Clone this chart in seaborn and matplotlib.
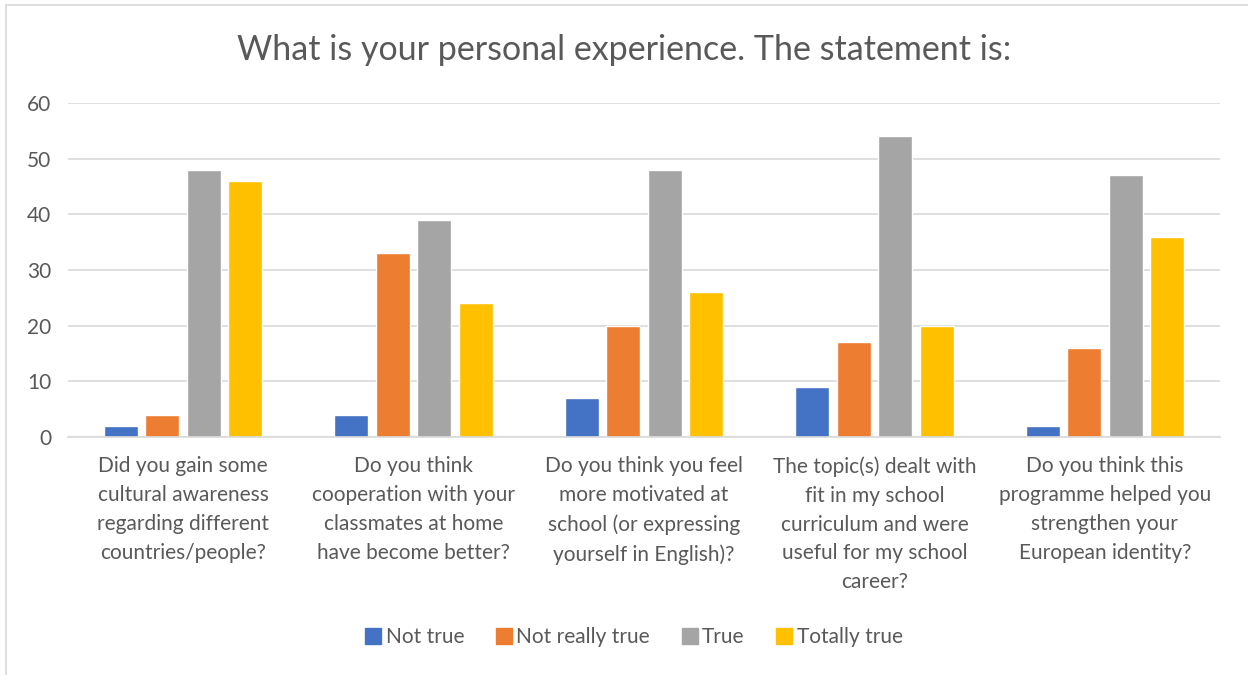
import numpy as np
import pandas as pd
import seaborn as sns
import matplotlib.pyplot as plt
from matplotlib.lines import Line2D

questions = [
    "Did you gain some\ncultural awareness\nregarding different\ncountries/people?",
    "Do you think\ncooperation with your\nclassmates at home\nhave become better?",
    "Do you think you feel\nmore motivated at\nschool (or expressing\nyourself in English)?",
    "The topic(s) dealt with\nfit in my school\ncurriculum and were\nuseful for my school\ncareer?",
    "Do you think this\nprogramme helped you\nstrengthen your\nEuropean identity?",
]
answers = ["Not true", "Not really true", "True", "Totally true"]
not_true = [2, 4, 7, 9, 2]
not_really_true = [4, 33, 20, 17, 16]
true_vals = [48, 39, 48, 54, 47]
totally_true = [46, 24, 26, 20, 36]
colors = ["#4472C4", "#ED7D31", "#A5A5A5", "#FFC000"]

rows = []
for ans, vals in zip(answers, [not_true, not_really_true, true_vals, totally_true]):
    for q, v in zip(questions, vals):
        rows.append({"question": q, "answer": ans, "count": v})
df = pd.DataFrame(rows)

sns.set_theme(style="white")
plt.rcParams["font.family"] = ["Lato", "DejaVu Sans"]
text_col = "#595959"

fig = plt.figure(figsize=(12.48, 6.75), dpi=100)
ax = fig.add_axes([68 / 1248, 1 - 437 / 675, (1220 - 68) / 1248, (437 - 103) / 675])

sns.barplot(data=df, x="question", y="count", hue="answer", hue_order=answers,
            order=questions, palette=colors, width=0.72, gap=0.18,
            saturation=1, ax=ax, legend=False)

ax.set_ylim(0, 60)
ax.set_yticks(range(0, 61, 10))
ax.yaxis.grid(True, color="#d9d9d9", linewidth=1.2)
ax.set_axisbelow(True)
for s in ["top", "right", "left"]:
    ax.spines[s].set_visible(False)
ax.spines["bottom"].set_color("#d9d9d9")
ax.spines["bottom"].set_linewidth(1.2)
ax.set_xlabel("")
ax.set_ylabel("")
ax.set_xticks(range(len(questions)))
ax.set_xticklabels(questions, linespacing=1.55, fontsize=15, color=text_col, va="top")
ax.tick_params(axis="both", length=0, colors=text_col)
ax.tick_params(axis="y", pad=12, labelsize=15)
ax.tick_params(axis="x", pad=14)

fig.text(0.5, 1 - 50 / 675, "What is your personal experience. The statement is:",
         ha="center", va="center", fontsize=24.5, color=text_col)

handles = [Line2D([0], [0], marker="s", linestyle="", markersize=11,
                  markerfacecolor=c, markeredgecolor=c) for c in colors]
fig.legend(handles, answers, loc="center", bbox_to_anchor=(0.507, 1 - 637 / 675),
           ncol=4, frameon=False, fontsize=15, labelcolor=text_col,
           handletextpad=0.1, columnspacing=1.4, handlelength=1.0)

# outer chart frame
fig.add_artist(Line2D([6 / 1248, 6 / 1248], [0, 1 - 5 / 675], color="#d9d9d9", linewidth=1.2))
fig.add_artist(Line2D([6 / 1248, 1], [1 - 5 / 675, 1 - 5 / 675], color="#d9d9d9", linewidth=1.2))

fig.savefig("out.png", dpi=100)
